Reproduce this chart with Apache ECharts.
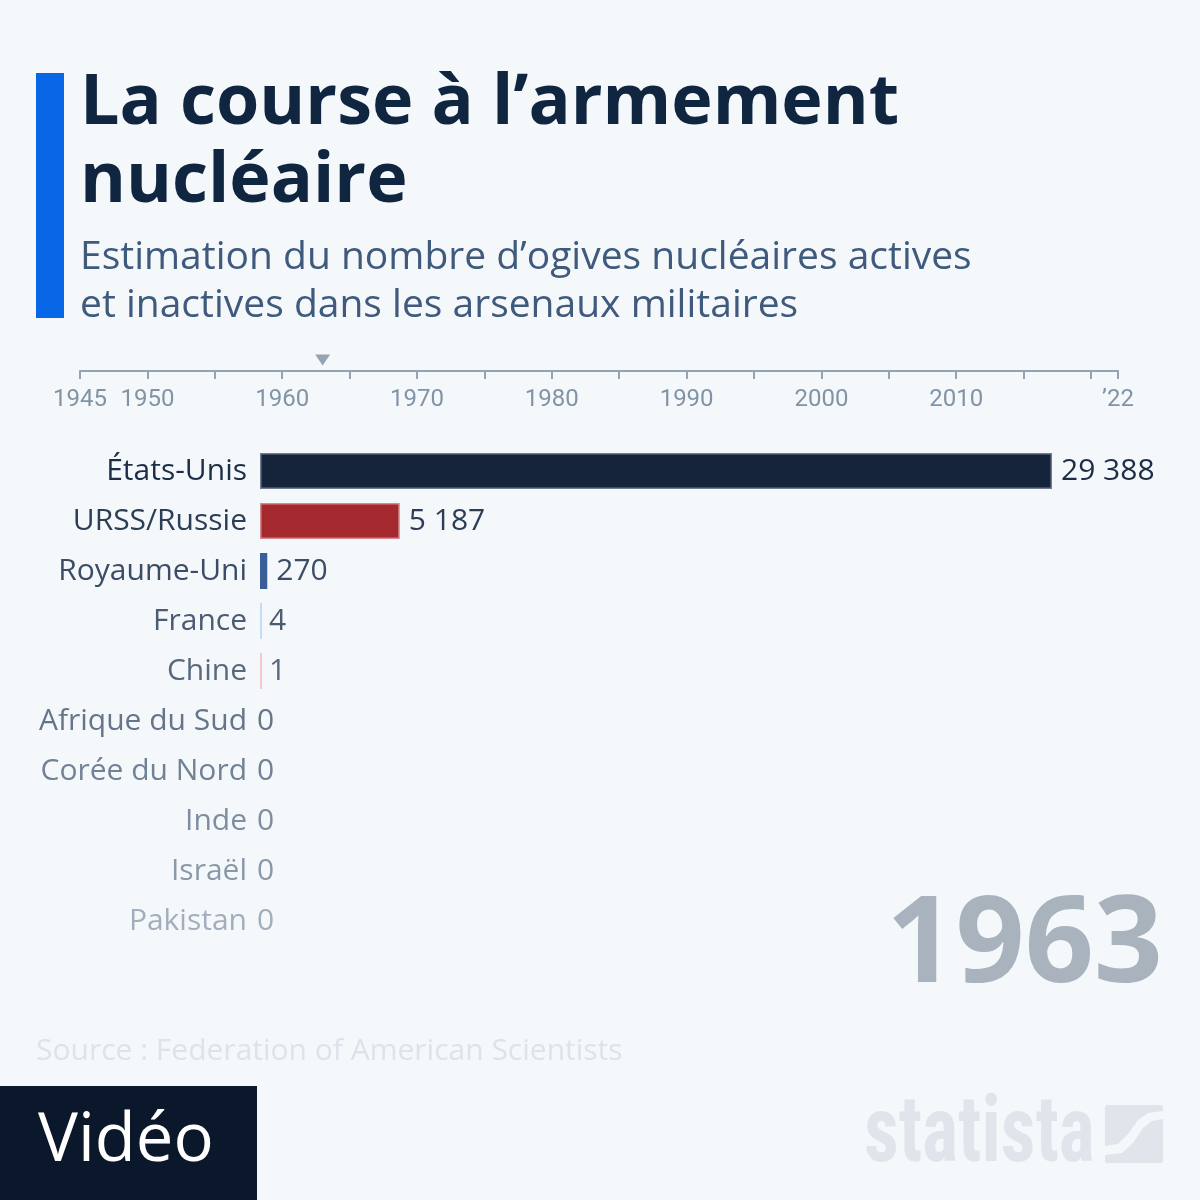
<!DOCTYPE html>
<html><head><meta charset="utf-8">
<script src="https://cdn.jsdelivr.net/npm/echarts@6/dist/echarts.min.js"></script>
<style>html,body{margin:0;padding:0;background:#f5f8fb}#c{width:1200px;height:1200px}</style>
</head><body><div id="c"></div>
<script>
const countries = ['États-Unis','URSS/Russie','Royaume-Uni','France','Chine','Afrique du Sud','Corée du Nord','Inde','Israël','Pakistan'];
const warheads = [29388, 5187, 270, 4, 1, 0, 0, 0, 0, 0];
const currentYear = 1963;
const timelineStart = 1945;
const timelineEnd = 2022;
const timelineLabels = {1945:'1945',1950:'1950',1960:'1960',1970:'1970',1980:'1980',1990:'1990',2000:'2000',2010:'2010',2022:'’22'};

const barColors = ['#15243a','#a4292f','#3a5e98','#c6dbf7','#f5c9cb','rgba(0,0,0,0)','rgba(0,0,0,0)','rgba(0,0,0,0)','rgba(0,0,0,0)','rgba(0,0,0,0)'];
const barBorders = ['#6f7c8b','#d28a8e','#3a5e98','#c6dbf7','#f5c9cb','rgba(0,0,0,0)','rgba(0,0,0,0)','rgba(0,0,0,0)','rgba(0,0,0,0)','rgba(0,0,0,0)'];
const textColors = ['#1c2d46','#2c3e56','#3b4d65','#4b5c72','#58697e','#66768a','#728296','#7e8ea0','#8a99aa','#a2aebb'];
const FONT = "'Open Sans','Noto Sans',sans-serif";
const COND = "'Roboto Condensed','Open Sans Condensed','Liberation Sans Narrow','DejaVu Sans Condensed',Roboto,sans-serif";

const chart = echarts.init(document.getElementById('c'));
chart.setOption({
  backgroundColor: '#f5f8fb',
  animation: false,
  grid: [
    {left: 260, top: 446, width: 792, height: 500},
    {left: 80, top: 340, width: 1038, height: 31}
  ],
  xAxis: [
    {gridIndex: 0, type: 'value', min: 0, max: 29388, show: false},
    {gridIndex: 1, type: 'value', min: timelineStart, max: timelineEnd, interval: 5,
     position: 'bottom',
     axisLine: {show: true, lineStyle: {color: '#94a3b2', width: 2}},
     axisTick: {show: true, inside: false, length: 8, lineStyle: {color: '#94a3b2', width: 2}},
     splitLine: {show: false},
     axisLabel: {show: true, margin: 17, fontFamily: "Roboto,sans-serif", fontSize: 24, color: '#8094a6',
       formatter: v => timelineLabels[v] || ''}
    }
  ],
  yAxis: [
    {gridIndex: 0, type: 'category', data: countries, inverse: true,
     axisLine: {show: false}, axisTick: {show: false}, splitLine: {show: false},
     axisLabel: {margin: 13, fontFamily: FONT, fontSize: 30,
       color: (v, i) => textColors[i]}
    },
    {gridIndex: 1, type: 'value', min: 0, max: 31, show: false}
  ],
  series: [
    {type: 'bar', xAxisIndex: 0, yAxisIndex: 0, barWidth: 36, barMinHeight: 2,
     data: warheads.map((v, i) => ({
       value: v,
       itemStyle: {color: barColors[i], borderColor: barBorders[i], borderWidth: i < 2 ? 1.5 : 0},
       label: {color: textColors[i], offset: v === 0 ? [-14, 0] : (v < 10 ? [-2, 0] : [0, 0])}
     })),
     label: {show: true, position: 'right', distance: 9, fontFamily: FONT, fontSize: 30,
       formatter: p => String(p.value).replace(/\B(?=(\d{3})+(?!\d))/g, ' ')}
    },
    {type: 'scatter', xAxisIndex: 1, yAxisIndex: 1, symbol: 'triangle', symbolRotate: 180,
     symbolSize: [15, 11], itemStyle: {color: '#7d8fa0'}, data: [[currentYear, 11]], silent: true}
  ],
  graphic: [
    {type: 'rect', shape: {x: 36, y: 73, width: 28, height: 245}, style: {fill: '#0867e6'}},
    {type: 'text', left: 80, top: 65, style: {text: 'La course à l’armement\nnucléaire', font: "bold 70px " + FONT, fill: '#0f2540', lineHeight: 78}},
    {type: 'text', left: 80, top: 234, style: {text: 'Estimation du nombre d’ogives nucléaires actives\net inactives dans les arsenaux militaires', font: "39px " + FONT, fill: '#3f5a7d', lineHeight: 48}},
    {type: 'text', right: 37, top: 887, style: {text: String(currentYear), font: "bold 121px " + FONT, fill: '#a8b3be'}},
    {type: 'text', left: 36, top: 1036, style: {text: 'Source : Federation of American Scientists', font: "30px " + FONT, fill: '#dde3ea'}},
    {type: 'rect', shape: {x: 0, y: 1086, width: 257, height: 114}, style: {fill: '#0b182b'}},
    {type: 'text', left: 38, top: 1108, style: {text: 'Vidéo', font: "67px " + FONT, fill: '#ffffff'}},
    {type: 'text', x: 864, y: 1092, scaleX: 0.83, style: {text: 'statista', font: "bold 92px " + COND, fill: '#e1e5eb'}},
    {type: 'rect', shape: {x: 1105, y: 1105, width: 58, height: 58, r: 2}, style: {fill: '#e1e5eb'}},
    {type: 'polygon', shape: {points: [[1105,1146],[1118,1144],[1128,1134],[1138,1120],[1148,1113],[1163,1111],[1163,1119],[1152,1121],[1143,1128],[1133,1143],[1122,1153],[1105,1155]]}, style: {fill: '#f5f8fb'}}
  ]
});
</script></body></html>
